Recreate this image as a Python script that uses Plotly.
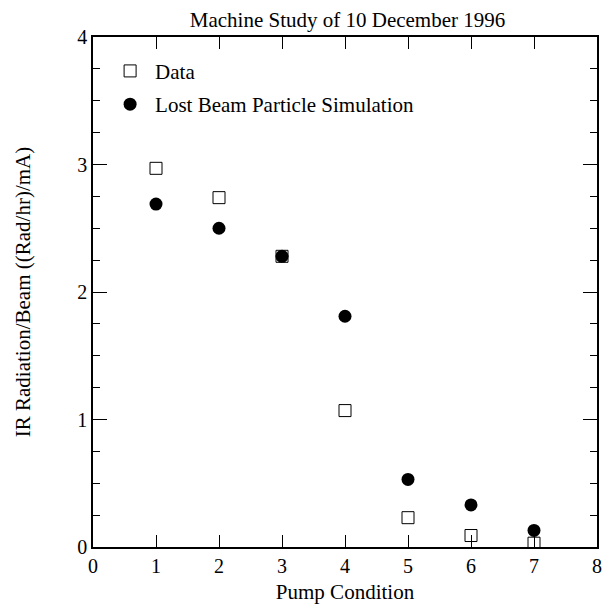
import plotly.graph_objects as go

pump = [1, 2, 3, 4, 5, 6, 7]
data_vals = [2.97, 2.74, 2.28, 1.07, 0.23, 0.09, 0.03]
sim_vals = [2.69, 2.50, 2.28, 1.81, 0.53, 0.33, 0.13]

FONT = "Liberation Serif"

fig = go.Figure()
fig.add_trace(go.Scatter(
    x=pump, y=data_vals, mode="markers", name="Data", legendgroup="a",
    marker=dict(symbol="square-open", size=12, color="black", line=dict(width=1)),
))
fig.add_trace(go.Scatter(
    x=pump, y=sim_vals, mode="markers", name="Lost Beam Particle Simulation",
    legendgroup="b",
    marker=dict(symbol="circle", size=13, color="black"),
))

axis_common = dict(
    showgrid=False, zeroline=False, showline=True, linecolor="black",
    linewidth=1.5, mirror="ticks", ticks="inside", tickcolor="black",
    tickfont=dict(family=FONT, size=20, color="black"),
)

# page body has an 8px margin, so the figure is drawn 8px in from the corner
fig.update_layout(
    width=602, height=600,
    plot_bgcolor="white", paper_bgcolor="white",
    margin=dict(l=85, r=8, t=29, b=56),
    title=dict(text="Machine Study of 10 December 1996", xref="paper", x=0.505,
               xanchor="center", yref="container", y=0.993, yanchor="top",
               font=dict(family=FONT, size=21, color="black")),
    xaxis=dict(range=[0, 8], dtick=1, ticklen=12,
               title=dict(text="Pump Condition", standoff=9,
                          font=dict(family=FONT, size=21, color="black")),
               **axis_common),
    yaxis=dict(range=[0, 4], dtick=1, ticklen=14,
               minor=dict(dtick=0.25, ticks="inside", ticklen=7, tickcolor="black"),
               title=dict(text="IR Radiation/Beam ((Rad/hr)/mA)", standoff=41,
                          font=dict(family=FONT, size=21, color="black")),
               **axis_common),
    showlegend=True,
    legend=dict(x=0.024, y=0.973, xanchor="left", yanchor="top",
                bgcolor="rgba(0,0,0,0)", traceorder="grouped", tracegroupgap=3,
                itemwidth=40,
                font=dict(family=FONT, size=21, color="black")),
)

fig.write_html("out.html")
